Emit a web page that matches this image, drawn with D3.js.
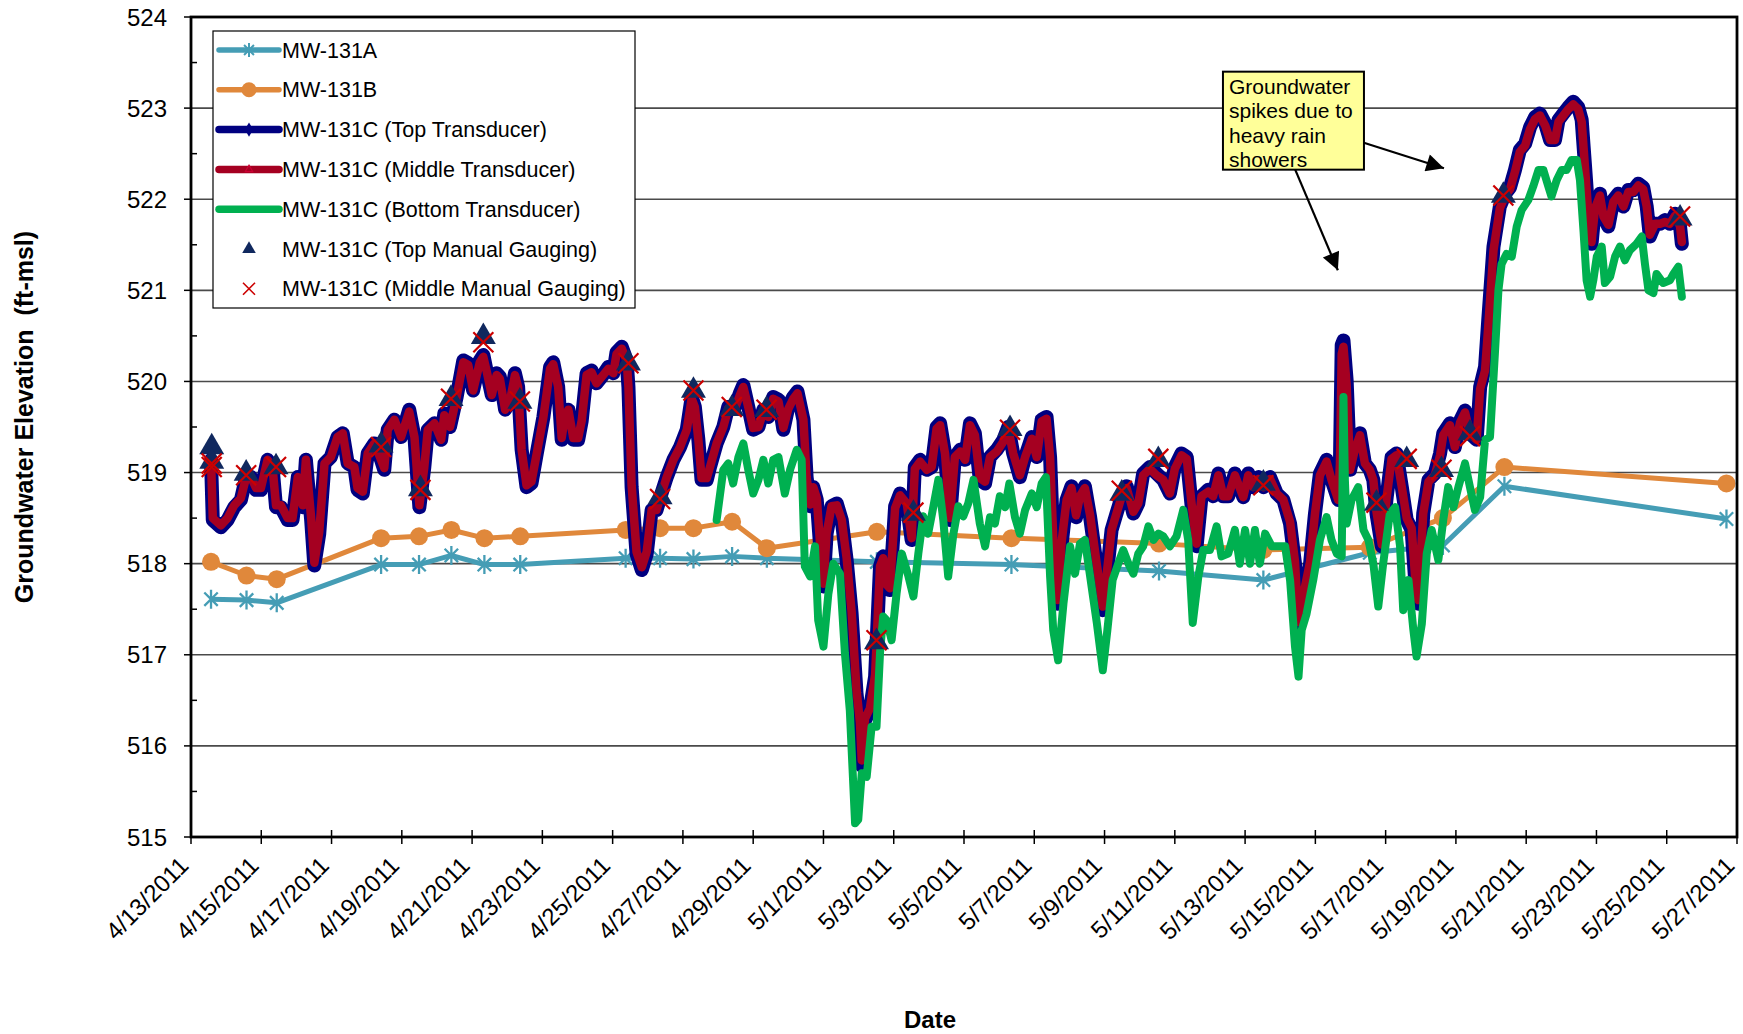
<!DOCTYPE html>
<html>
<head>
<meta charset="utf-8">
<script src="https://cdn.jsdelivr.net/npm/d3@7"></script>
<style>
  body { margin: 0; background: #fff; }
  text { font-family: Arial, "Liberation Sans", sans-serif; }
</style>
</head>
<body>
<div id="chart"></div>
<script>
// days are counted from 4/13/2011 00:00
const startDate = Date.UTC(2011, 3, 13);
const endDate = Date.UTC(2011, 4, 27);

const yTicks = [515, 516, 517, 518, 519, 520, 521, 522, 523, 524];

const seriesNames = [
    "MW-131A",
    "MW-131B",
    "MW-131C (Top Transducer)",
    "MW-131C (Middle Transducer)",
    "MW-131C (Bottom Transducer)",
    "MW-131C (Top Manual Gauging)",
    "MW-131C (Middle Manual Gauging)"
];

// manual measurements MW-131A / MW-131B
const wellDays = [0.57, 1.58, 2.44, 5.41, 6.49, 7.41, 8.35, 9.37, 12.37, 13.35, 14.30, 15.40, 16.39, 19.52, 23.35, 27.55, 30.52, 33.55, 35.63, 37.38, 43.70];
const mw131A = [517.61, 517.60, 517.57, 517.99, 517.99, 518.09, 517.99, 517.99, 518.06, 518.06, 518.05, 518.08, 518.06, 518.02, 517.99, 517.92, 517.82, 518.12, 518.20, 518.85, 518.49];
const mw131B = [518.02, 517.87, 517.83, 518.28, 518.30, 518.37, 518.28, 518.30, 518.37, 518.39, 518.39, 518.46, 518.17, 518.35, 518.28, 518.22, 518.15, 518.18, 518.50, 519.06, 518.88];

// manual gauging of MW-131C
const gaugeDays = [0.59, 0.59, 1.57, 2.42, 5.41, 6.53, 7.40, 8.32, 9.36, 12.45, 13.35, 14.30, 15.39, 16.38, 19.51, 20.56, 23.31, 26.49, 27.53, 30.52, 33.74, 34.60, 35.59, 36.40, 37.35, 42.38];
const topGauge = [519.28, 519.12, 518.99, 519.06, 519.30, 518.82, 519.81, 520.49, 519.78, 520.20, 518.73, 519.90, 519.70, 519.69, 517.14, 518.55, 519.48, 518.77, 519.14, 518.88, 518.66, 519.14, 519.03, 519.43, 522.04, 521.79];
const midGauge = [519.10, 519.06, 518.97, 519.06, 519.28, 518.81, 519.81, 520.43, 519.78, 520.20, 518.71, 519.90, 519.72, 519.69, 517.16, 518.56, 519.47, 518.80, 519.15, 518.86, 518.67, 519.15, 519.03, 519.40, 522.04, 521.81];

// transducer records [day, elevation]
const cTop = [
    [0.57, 519.14], [0.62, 518.48], [0.85, 518.40], [1.04, 518.48], [1.23, 518.62], [1.42, 518.70], [1.57, 518.95], [1.71, 518.95], [1.85, 518.81], [1.99, 518.81],
    [2.18, 519.14], [2.32, 519.06], [2.42, 518.62], [2.56, 518.62], [2.75, 518.48], [2.89, 518.48], [3.04, 518.95], [3.18, 518.62], [3.27, 519.14], [3.42, 518.48],
    [3.51, 517.98], [3.65, 518.33], [3.80, 519.10], [3.98, 519.17], [4.17, 519.39], [4.32, 519.43], [4.46, 519.10], [4.65, 519.06], [4.74, 518.81], [4.89, 518.77],
    [5.03, 519.21], [5.22, 519.32], [5.41, 519.14], [5.50, 519.03], [5.60, 519.47], [5.79, 519.58], [5.98, 519.39], [6.21, 519.69], [6.36, 519.39], [6.50, 518.62],
    [6.64, 519.06], [6.74, 519.47], [6.93, 519.54], [7.12, 519.36], [7.21, 519.65], [7.37, 519.50], [7.56, 519.83], [7.75, 520.23], [7.89, 520.20], [8.03, 519.90],
    [8.22, 520.23], [8.32, 520.29], [8.41, 520.12], [8.56, 519.85], [8.70, 520.09], [8.79, 520.05], [8.94, 519.69], [9.08, 519.79], [9.22, 520.09], [9.31, 519.94],
    [9.41, 519.25], [9.55, 518.84], [9.69, 518.88], [9.84, 519.21], [10.03, 519.61], [10.22, 520.16], [10.31, 520.21], [10.45, 519.94], [10.55, 519.36], [10.64, 519.61],
    [10.74, 519.69], [10.88, 519.36], [11.02, 519.36], [11.12, 519.57], [11.26, 520.09], [11.40, 520.12], [11.54, 519.98], [11.69, 520.05], [11.88, 520.16], [12.02, 520.09],
    [12.11, 520.32], [12.26, 520.38], [12.40, 520.23], [12.45, 519.94], [12.54, 518.84], [12.68, 518.11], [12.83, 517.93], [12.97, 518.11], [13.11, 518.59], [13.25, 518.59],
    [13.39, 518.77], [13.54, 518.95], [13.73, 519.14], [13.92, 519.28], [14.11, 519.47], [14.25, 519.83], [14.34, 519.72], [14.44, 519.36], [14.53, 518.92], [14.68, 518.92],
    [14.77, 519.06], [14.96, 519.32], [15.15, 519.50], [15.29, 519.72], [15.48, 519.72], [15.62, 519.87], [15.72, 519.96], [15.86, 519.72], [16.00, 519.47], [16.15, 519.50],
    [16.29, 519.69], [16.43, 519.61], [16.57, 519.83], [16.72, 519.80], [16.86, 519.47], [17.00, 519.72], [17.14, 519.83], [17.26, 519.89], [17.43, 519.58], [17.52, 518.95],
    [17.62, 518.63], [17.71, 518.84], [17.81, 518.70], [17.90, 518.22], [18.00, 517.75], [18.09, 518.33], [18.23, 518.63], [18.38, 518.66], [18.52, 518.48], [18.66, 518.04],
    [18.80, 517.46], [18.94, 516.58], [19.04, 516.21], [19.09, 515.78], [19.18, 516.28], [19.32, 516.39], [19.47, 516.76], [19.61, 517.97], [19.70, 518.08], [19.80, 517.75],
    [19.89, 517.71], [20.04, 518.63], [20.18, 518.77], [20.37, 518.66], [20.51, 518.26], [20.60, 519.06], [20.75, 519.14], [20.94, 519.03], [21.08, 519.06], [21.22, 519.50],
    [21.32, 519.54], [21.46, 519.21], [21.60, 518.48], [21.74, 519.17], [21.89, 519.25], [22.03, 519.14], [22.17, 519.54], [22.31, 519.43], [22.45, 518.92], [22.60, 518.88],
    [22.74, 519.17], [22.93, 519.25], [23.12, 519.36], [23.26, 519.50], [23.40, 519.21], [23.59, 518.95], [23.74, 519.17], [23.93, 519.39], [24.07, 519.17], [24.21, 519.58],
    [24.35, 519.61], [24.45, 519.17], [24.54, 518.26], [24.66, 517.56], [24.78, 518.22], [24.92, 518.70], [25.06, 518.85], [25.19, 518.51], [25.30, 518.74], [25.44, 518.85],
    [25.59, 518.51], [25.78, 517.97], [25.95, 517.49], [26.06, 517.86], [26.20, 518.37], [26.34, 518.55], [26.49, 518.74], [26.63, 518.85], [26.82, 518.55], [26.96, 518.66],
    [27.10, 518.99], [27.29, 519.06], [27.48, 518.99], [27.67, 518.92], [27.86, 518.77], [28.00, 519.06], [28.19, 519.21], [28.34, 519.17], [28.48, 518.63], [28.62, 518.19],
    [28.76, 518.74], [28.95, 518.81], [29.09, 518.74], [29.24, 518.99], [29.38, 518.74], [29.52, 518.74], [29.71, 518.99], [29.95, 518.73], [30.09, 518.99], [30.23, 518.84],
    [30.38, 518.95], [30.52, 518.84], [30.71, 518.95], [30.90, 518.77], [31.09, 518.70], [31.28, 518.44], [31.42, 518.00], [31.52, 517.31], [31.66, 517.64], [31.85, 518.00],
    [31.99, 518.55], [32.13, 518.99], [32.32, 519.14], [32.46, 518.92], [32.65, 518.70], [32.70, 519.10], [32.75, 520.40], [32.80, 520.45], [32.89, 520.01], [32.99, 519.03],
    [33.13, 519.28], [33.27, 519.43], [33.41, 519.10], [33.55, 519.03], [33.65, 518.92], [33.74, 518.55], [33.89, 518.19], [34.03, 518.73], [34.17, 519.17], [34.31, 519.21],
    [34.46, 518.84], [34.60, 518.48], [34.74, 518.37], [34.84, 517.82], [34.93, 517.56], [35.07, 518.55], [35.22, 518.92], [35.40, 518.99], [35.55, 519.21], [35.64, 519.43],
    [35.83, 519.54], [35.97, 519.28], [36.12, 519.57], [36.26, 519.68], [36.40, 519.43], [36.59, 519.36], [36.69, 519.94], [36.83, 520.16], [36.92, 520.67], [37.07, 521.48],
    [37.25, 521.92], [37.40, 522.06], [37.54, 522.13], [37.68, 522.32], [37.82, 522.54], [37.97, 522.61], [38.11, 522.79], [38.25, 522.90], [38.39, 522.94], [38.54, 522.83],
    [38.68, 522.65], [38.82, 522.65], [38.92, 522.87], [39.06, 522.94], [39.20, 523.01], [39.34, 523.07], [39.48, 523.01], [39.58, 522.87], [39.67, 522.39], [39.77, 521.84],
    [39.86, 521.51], [39.96, 521.92], [40.10, 522.06], [40.20, 521.81], [40.34, 521.70], [40.48, 521.99], [40.62, 522.06], [40.77, 521.92], [40.91, 522.10], [41.05, 522.10],
    [41.19, 522.17], [41.33, 522.13], [41.43, 521.92], [41.52, 521.59], [41.67, 521.73], [41.81, 521.73], [41.95, 521.77], [42.09, 521.73], [42.24, 521.84], [42.38, 521.70],
    [42.43, 521.51]
];

const cMiddle = [
    [0.57, 519.14], [0.62, 518.50], [0.85, 518.42], [1.04, 518.50], [1.23, 518.64], [1.42, 518.72], [1.57, 518.95], [1.71, 518.95], [1.85, 518.83], [1.99, 518.83],
    [2.18, 519.14], [2.32, 519.06], [2.42, 518.64], [2.56, 518.64], [2.75, 518.50], [2.89, 518.50], [3.04, 518.95], [3.18, 518.64], [3.27, 519.14], [3.42, 518.50],
    [3.51, 518.01], [3.65, 518.35], [3.80, 519.10], [3.98, 519.17], [4.17, 519.39], [4.32, 519.43], [4.46, 519.10], [4.65, 519.06], [4.74, 518.83], [4.89, 518.79],
    [5.03, 519.21], [5.22, 519.32], [5.41, 519.14], [5.50, 519.05], [5.60, 519.47], [5.79, 519.58], [5.98, 519.39], [6.21, 519.67], [6.36, 519.39], [6.50, 518.64],
    [6.64, 519.06], [6.74, 519.47], [6.93, 519.54], [7.12, 519.36], [7.21, 519.63], [7.37, 519.50], [7.56, 519.83], [7.75, 520.21], [7.89, 520.18], [8.03, 519.90],
    [8.22, 520.21], [8.32, 520.27], [8.41, 520.12], [8.56, 519.85], [8.70, 520.07], [8.79, 520.03], [8.94, 519.69], [9.08, 519.79], [9.22, 520.07], [9.31, 519.94],
    [9.41, 519.25], [9.55, 518.86], [9.69, 518.90], [9.84, 519.21], [10.03, 519.61], [10.22, 520.14], [10.31, 520.19], [10.45, 519.94], [10.55, 519.38], [10.64, 519.61],
    [10.74, 519.69], [10.88, 519.38], [11.02, 519.38], [11.12, 519.57], [11.26, 520.07], [11.40, 520.10], [11.54, 519.98], [11.69, 520.05], [11.88, 520.14], [12.02, 520.09],
    [12.11, 520.30], [12.26, 520.36], [12.40, 520.23], [12.45, 519.94], [12.54, 518.86], [12.68, 518.13], [12.83, 517.96], [12.97, 518.13], [13.11, 518.59], [13.25, 518.59],
    [13.39, 518.77], [13.54, 518.95], [13.73, 519.14], [13.92, 519.28], [14.11, 519.47], [14.25, 519.81], [14.34, 519.72], [14.44, 519.36], [14.53, 518.94], [14.68, 518.94],
    [14.77, 519.06], [14.96, 519.32], [15.15, 519.50], [15.29, 519.70], [15.48, 519.70], [15.62, 519.85], [15.72, 519.94], [15.86, 519.72], [16.00, 519.49], [16.15, 519.50],
    [16.29, 519.67], [16.43, 519.61], [16.57, 519.81], [16.72, 519.78], [16.86, 519.49], [17.00, 519.70], [17.14, 519.81], [17.26, 519.87], [17.43, 519.58], [17.52, 518.95],
    [17.62, 518.65], [17.71, 518.84], [17.81, 518.72], [17.90, 518.24], [18.00, 517.78], [18.09, 518.33], [18.23, 518.63], [18.38, 518.64], [18.52, 518.48], [18.66, 518.06],
    [18.80, 517.48], [18.94, 516.62], [19.04, 516.25], [19.09, 515.84], [19.18, 516.30], [19.32, 516.41], [19.47, 516.78], [19.61, 517.97], [19.70, 518.06], [19.80, 517.77],
    [19.89, 517.73], [20.04, 518.61], [20.18, 518.75], [20.37, 518.66], [20.51, 518.28], [20.60, 519.04], [20.75, 519.12], [20.94, 519.03], [21.08, 519.06], [21.22, 519.48],
    [21.32, 519.52], [21.46, 519.21], [21.60, 518.50], [21.74, 519.17], [21.89, 519.23], [22.03, 519.14], [22.17, 519.52], [22.31, 519.41], [22.45, 518.94], [22.60, 518.90],
    [22.74, 519.17], [22.93, 519.23], [23.12, 519.34], [23.26, 519.48], [23.40, 519.21], [23.59, 518.97], [23.74, 519.17], [23.93, 519.37], [24.07, 519.17], [24.21, 519.56],
    [24.35, 519.59], [24.45, 519.17], [24.54, 518.28], [24.66, 517.60], [24.78, 518.24], [24.92, 518.70], [25.06, 518.83], [25.19, 518.53], [25.30, 518.74], [25.44, 518.83],
    [25.59, 518.53], [25.78, 517.99], [25.95, 517.53], [26.06, 517.88], [26.20, 518.37], [26.34, 518.55], [26.49, 518.74], [26.63, 518.83], [26.82, 518.57], [26.96, 518.66],
    [27.10, 518.97], [27.29, 519.04], [27.48, 518.97], [27.67, 518.92], [27.86, 518.77], [28.00, 519.04], [28.19, 519.19], [28.34, 519.15], [28.48, 518.65], [28.62, 518.22],
    [28.76, 518.74], [28.95, 518.79], [29.09, 518.74], [29.24, 518.97], [29.38, 518.74], [29.52, 518.74], [29.71, 518.97], [29.95, 518.73], [30.09, 518.97], [30.23, 518.84],
    [30.38, 518.93], [30.52, 518.84], [30.71, 518.93], [30.90, 518.77], [31.09, 518.70], [31.28, 518.46], [31.42, 518.02], [31.52, 517.36], [31.66, 517.66], [31.85, 518.02],
    [31.99, 518.55], [32.13, 518.97], [32.32, 519.12], [32.46, 518.92], [32.65, 518.70], [32.70, 519.10], [32.75, 520.30], [32.80, 520.38], [32.89, 519.96], [32.99, 519.03],
    [33.13, 519.26], [33.27, 519.41], [33.41, 519.10], [33.55, 519.03], [33.65, 518.92], [33.74, 518.57], [33.89, 518.21], [34.03, 518.73], [34.17, 519.15], [34.31, 519.19],
    [34.46, 518.84], [34.60, 518.50], [34.74, 518.39], [34.84, 517.85], [34.93, 517.60], [35.07, 518.55], [35.22, 518.90], [35.40, 518.97], [35.55, 519.19], [35.64, 519.41],
    [35.83, 519.52], [35.97, 519.28], [36.12, 519.55], [36.26, 519.66], [36.40, 519.43], [36.59, 519.36], [36.69, 519.92], [36.83, 520.12], [36.92, 520.60], [37.07, 521.44],
    [37.25, 521.90], [37.40, 522.04], [37.54, 522.11], [37.68, 522.30], [37.82, 522.52], [37.97, 522.59], [38.11, 522.77], [38.25, 522.88], [38.39, 522.92], [38.54, 522.81],
    [38.68, 522.65], [38.82, 522.65], [38.92, 522.85], [39.06, 522.92], [39.20, 522.99], [39.34, 523.04], [39.48, 522.99], [39.58, 522.85], [39.67, 522.37], [39.77, 521.84],
    [39.86, 521.53], [39.96, 521.90], [40.10, 522.04], [40.20, 521.81], [40.34, 521.72], [40.48, 521.97], [40.62, 522.04], [40.77, 521.92], [40.91, 522.08], [41.05, 522.08],
    [41.19, 522.15], [41.33, 522.11], [41.43, 521.92], [41.52, 521.61], [41.67, 521.73], [41.81, 521.73], [41.95, 521.75], [42.09, 521.73], [42.24, 521.82], [42.38, 521.70],
    [42.43, 521.53]
];

const cBottom = [
    [14.96, 518.48], [15.15, 519.03], [15.29, 519.10], [15.43, 518.88], [15.58, 519.17], [15.72, 519.32], [15.86, 519.03], [16.00, 518.77], [16.15, 518.92], [16.29, 519.14],
    [16.43, 518.88], [16.57, 519.14], [16.72, 519.17], [16.90, 518.77], [17.05, 519.03], [17.24, 519.25], [17.38, 519.14], [17.47, 517.97], [17.62, 517.86], [17.76, 518.19],
    [17.85, 517.38], [18.00, 517.09], [18.14, 517.67], [18.28, 518.00], [18.47, 517.89], [18.61, 517.02], [18.75, 516.39], [18.90, 515.15], [18.99, 515.19], [19.09, 515.70],
    [19.23, 515.66], [19.37, 516.21], [19.51, 516.21], [19.61, 517.02], [19.70, 517.42], [19.80, 517.38], [19.94, 517.16], [20.08, 517.67], [20.23, 518.11], [20.42, 517.86],
    [20.56, 517.64], [20.70, 518.11], [20.84, 518.52], [20.98, 518.33], [21.13, 518.63], [21.27, 518.92], [21.41, 518.48], [21.55, 517.86], [21.70, 518.33], [21.84, 518.63],
    [21.98, 518.52], [22.12, 518.66], [22.27, 518.92], [22.45, 518.44], [22.60, 518.19], [22.74, 518.51], [22.88, 518.44], [23.02, 518.74], [23.17, 518.62], [23.29, 518.88],
    [23.45, 518.51], [23.59, 518.33], [23.74, 518.59], [23.93, 518.77], [24.07, 518.62], [24.21, 518.88], [24.33, 518.95], [24.45, 517.86], [24.54, 517.27], [24.68, 516.94],
    [24.83, 517.56], [25.02, 518.19], [25.16, 517.89], [25.30, 518.22], [25.44, 518.26], [25.59, 517.86], [25.78, 517.35], [25.95, 516.83], [26.08, 517.27], [26.23, 517.82],
    [26.39, 518.00], [26.53, 518.15], [26.68, 518.00], [26.82, 517.89], [26.96, 518.11], [27.10, 518.19], [27.25, 518.41], [27.39, 518.26], [27.53, 518.33], [27.67, 518.30],
    [27.86, 518.19], [28.05, 518.30], [28.24, 518.59], [28.38, 518.26], [28.51, 517.35], [28.67, 517.86], [28.81, 518.15], [29.00, 518.15], [29.19, 518.41], [29.33, 518.08],
    [29.52, 518.11], [29.71, 518.37], [29.85, 518.00], [30.00, 518.37], [30.14, 518.00], [30.28, 518.37], [30.42, 518.00], [30.57, 518.33], [30.76, 518.19], [30.95, 518.19],
    [31.14, 518.19], [31.28, 517.82], [31.42, 517.09], [31.52, 516.76], [31.61, 517.27], [31.75, 517.45], [31.94, 517.82], [32.13, 518.26], [32.32, 518.51], [32.46, 518.26],
    [32.61, 518.11], [32.75, 518.08], [32.80, 519.83], [32.84, 518.92], [32.89, 518.44], [33.03, 518.70], [33.22, 518.84], [33.37, 518.37], [33.51, 518.26], [33.65, 518.00],
    [33.79, 517.53], [33.93, 518.00], [34.12, 518.55], [34.27, 518.62], [34.41, 518.19], [34.50, 517.49], [34.65, 517.82], [34.79, 517.27], [34.88, 516.98], [35.03, 517.34],
    [35.17, 518.11], [35.31, 518.37], [35.50, 518.04], [35.64, 518.48], [35.78, 518.84], [35.93, 518.62], [36.07, 518.84], [36.26, 519.10], [36.40, 518.84], [36.54, 518.59],
    [36.69, 518.73], [36.83, 519.36], [36.97, 519.39], [37.11, 520.31], [37.21, 521.00], [37.30, 521.29], [37.44, 521.40], [37.59, 521.37], [37.73, 521.70], [37.87, 521.88],
    [38.06, 521.99], [38.20, 522.14], [38.35, 522.32], [38.49, 522.32], [38.63, 522.14], [38.72, 522.03], [38.87, 522.21], [39.01, 522.32], [39.15, 522.32], [39.29, 522.43],
    [39.44, 522.43], [39.53, 522.21], [39.63, 521.66], [39.72, 521.11], [39.82, 520.93], [39.91, 521.11], [40.01, 521.37], [40.15, 521.48], [40.24, 521.08], [40.39, 521.15],
    [40.53, 521.37], [40.67, 521.48], [40.81, 521.33], [40.95, 521.44], [41.14, 521.51], [41.29, 521.59], [41.38, 521.29], [41.48, 521.00], [41.62, 520.97], [41.71, 521.18],
    [41.90, 521.08], [42.09, 521.11], [42.19, 521.18], [42.33, 521.26], [42.43, 520.93]
];

// callout text and where it sits (day, elevation)
const noteLines = ["Groundwater", "spikes due to", "heavy rain", "showers"];
const noteBox = { day: 29.37, elev: 523.40 };
const noteArrows = [
    { from: [33.38, 522.62], to: [35.66, 522.34] },
    { from: [31.42, 522.33], to: [32.64, 521.22] }
];

const colors = {
    a: "#459db5", b: "#e0883b", top: "#000080", mid: "#a50021", bot: "#00b050",
    tri: "#10285e", x: "#cc0000"
};

const width = 1743;
const height = 1034;
const margin = { top: 17, right: 6, bottom: 197, left: 191 };

const dayToDate = d => new Date(startDate + d * 864e5);

const x = d3.scaleUtc()
    .domain([new Date(startDate), new Date(endDate)])
    .range([margin.left, width - margin.right]);
const y = d3.scaleLinear()
    .domain([515, 524])
    .range([height - margin.bottom, margin.top]);

const svg = d3.select("#chart").append("svg")
    .attr("width", width)
    .attr("height", height)
    .style("background", "#fff");

// gridlines
svg.append("g")
    .selectAll("line")
    .data(yTicks.slice(1, -1))
    .join("line")
    .attr("x1", x.range()[0]).attr("x2", x.range()[1])
    .attr("y1", d => y(d)).attr("y2", d => y(d))
    .attr("stroke", "#4a4a4a")
    .attr("stroke-width", 1.6);

const line = d3.line()
    .x(d => x(dayToDate(d[0])))
    .y(d => y(d[1]));

function asterisk(size) {
    const s = size / 2, t = s * 0.7071;
    return `M0,${-s}L0,${s}M${-t},${-t}L${t},${t}M${-t},${t}L${t},${-t}`;
}

// MW-131A
const aData = wellDays.map((d, i) => [d, mw131A[i]]);
svg.append("path")
    .datum(aData)
    .attr("fill", "none")
    .attr("stroke", colors.a)
    .attr("stroke-width", 5)
    .attr("stroke-linejoin", "round")
    .attr("d", line);
svg.append("g")
    .selectAll("path")
    .data(aData)
    .join("path")
    .attr("transform", d => `translate(${x(dayToDate(d[0]))},${y(d[1])})`)
    .attr("d", asterisk(19))
    .attr("stroke", colors.a)
    .attr("stroke-width", 2.3);

// MW-131B
const bData = wellDays.map((d, i) => [d, mw131B[i]]);
svg.append("path")
    .datum(bData)
    .attr("fill", "none")
    .attr("stroke", colors.b)
    .attr("stroke-width", 5)
    .attr("stroke-linejoin", "round")
    .attr("d", line);
svg.append("g")
    .selectAll("circle")
    .data(bData)
    .join("circle")
    .attr("cx", d => x(dayToDate(d[0])))
    .attr("cy", d => y(d[1]))
    .attr("r", 9)
    .attr("fill", colors.b);

// transducers
[[cTop, colors.top, 14], [cMiddle, colors.mid, 8.5], [cBottom, colors.bot, 8]].forEach(([data, c, w]) => {
    svg.append("path")
        .datum(data)
        .attr("fill", "none")
        .attr("stroke", c)
        .attr("stroke-width", w)
        .attr("stroke-linejoin", "round")
        .attr("stroke-linecap", "round")
        .attr("d", line);
});

// manual gauging
const triangle = d3.symbol().type(d3.symbolTriangle).size(270);
svg.append("g")
    .selectAll("path")
    .data(gaugeDays.map((d, i) => [d, topGauge[i]]))
    .join("path")
    .attr("transform", d => `translate(${x(dayToDate(d[0]))},${y(d[1])})`)
    .attr("d", triangle)
    .attr("fill", colors.tri);

const cross = s => `M${-s},${-s}L${s},${s}M${-s},${s}L${s},${-s}`;
svg.append("g")
    .selectAll("path")
    .data(gaugeDays.map((d, i) => [d, midGauge[i]]))
    .join("path")
    .attr("transform", d => `translate(${x(dayToDate(d[0]))},${y(d[1])})`)
    .attr("d", cross(10))
    .attr("stroke", colors.x)
    .attr("stroke-width", 2.2);

// plot frame
svg.append("rect")
    .attr("x", x.range()[0])
    .attr("y", y.range()[1])
    .attr("width", x.range()[1] - x.range()[0])
    .attr("height", y.range()[0] - y.range()[1])
    .attr("fill", "none")
    .attr("stroke", "#000")
    .attr("stroke-width", 2.8);

// y axis
const yAxis = svg.append("g");
yAxis.selectAll("line.major")
    .data(yTicks)
    .join("line")
    .attr("class", "major")
    .attr("x1", x.range()[0] - 7).attr("x2", x.range()[0])
    .attr("y1", d => y(d)).attr("y2", d => y(d))
    .attr("stroke", "#000").attr("stroke-width", 1.5);
yAxis.selectAll("line.minor")
    .data(yTicks.slice(0, -1).map(d => d + 0.5))
    .join("line")
    .attr("class", "minor")
    .attr("x1", x.range()[0]).attr("x2", x.range()[0] + 6)
    .attr("y1", d => y(d)).attr("y2", d => y(d))
    .attr("stroke", "#000").attr("stroke-width", 1.5);
yAxis.selectAll("text")
    .data(yTicks)
    .join("text")
    .attr("x", x.range()[0] - 24)
    .attr("y", d => y(d) + 8.5)
    .attr("text-anchor", "end")
    .style("font-size", "24px")
    .text(d => d);

// x axis
const xTicks = x.ticks(d3.utcDay.every(2));
const fmt = d3.utcFormat("%-m/%-d/%Y");
const xAxis = svg.append("g");
xAxis.selectAll("line")
    .data(xTicks)
    .join("line")
    .attr("x1", d => x(d)).attr("x2", d => x(d))
    .attr("y1", y.range()[0] - 7).attr("y2", y.range()[0] + 7)
    .attr("stroke", "#000").attr("stroke-width", 1.5);
xAxis.selectAll("text")
    .data(xTicks)
    .join("text")
    .attr("transform", d => `translate(${x(d) - 1},${y.range()[0] + 30}) rotate(-45)`)
    .attr("text-anchor", "end")
    .style("font-size", "24px")
    .text(d => fmt(d));

// axis titles
svg.append("text")
    .attr("transform", `translate(33,${(y.range()[0] + y.range()[1]) / 2 - 10}) rotate(-90)`)
    .attr("text-anchor", "middle")
    .style("font-size", "25px")
    .style("font-weight", "bold")
    .style("white-space", "pre")
    .text("Groundwater Elevation  (ft-msl)");
svg.append("text")
    .attr("x", 930)
    .attr("y", 1028)
    .attr("text-anchor", "middle")
    .style("font-size", "24px")
    .style("font-weight", "bold")
    .text("Date");

// legend
const legend = svg.append("g").attr("transform", "translate(213,31)");
legend.append("rect")
    .attr("width", 422).attr("height", 277)
    .attr("fill", "#fff")
    .attr("stroke", "#000")
    .attr("stroke-width", 1.2);
const legendItems = seriesNames.map((name, i) => ({ name, i }));
const rows = legend.selectAll("g")
    .data(legendItems)
    .join("g")
    .attr("transform", d => `translate(0,${19 + d.i * 39.8})`);
rows.append("text")
    .attr("x", 69)
    .attr("y", 7.5)
    .style("font-size", "21.5px")
    .text(d => d.name);
rows.each(function (d) {
    const g = d3.select(this);
    const lc = [colors.a, colors.b, colors.top, colors.mid, colors.bot][d.i];
    if (lc) {
        g.append("line")
            .attr("x1", 6).attr("x2", 66)
            .attr("stroke", lc)
            .attr("stroke-width", d.i < 2 ? 5.5 : 7.5)
            .attr("stroke-linecap", "round");
    }
    if (d.i === 0) g.append("path").attr("transform", "translate(36,0)").attr("d", asterisk(14)).attr("stroke", colors.a).attr("stroke-width", 2);
    if (d.i === 1) g.append("circle").attr("cx", 36).attr("r", 7.5).attr("fill", colors.b);
    if (d.i === 2) g.append("path").attr("transform", "translate(36,0)").attr("d", d3.symbol().type(d3.symbolDiamond).size(60)).attr("fill", colors.top);
    if (d.i === 3) g.append("path").attr("transform", "translate(36,0)").attr("d", d3.symbol().type(d3.symbolTriangle).size(24)).attr("fill", "none").attr("stroke", "#cc0033").attr("stroke-width", 1.2);
    if (d.i === 5) g.append("path").attr("transform", "translate(36,0)").attr("d", d3.symbol().type(d3.symbolTriangle).size(80)).attr("fill", colors.tri);
    if (d.i === 6) g.append("path").attr("transform", "translate(36,0)").attr("d", cross(6)).attr("stroke", colors.x).attr("stroke-width", 1.6);
});

// callout
svg.append("defs").append("marker")
    .attr("id", "arrowhead")
    .attr("viewBox", "0 0 10 10")
    .attr("refX", 10).attr("refY", 5)
    .attr("markerWidth", 9).attr("markerHeight", 8)
    .attr("markerUnits", "strokeWidth")
    .attr("orient", "auto")
    .append("path")
    .attr("d", "M0,0L10,5L0,10z")
    .attr("fill", "#000");

svg.append("g")
    .selectAll("line")
    .data(noteArrows)
    .join("line")
    .attr("x1", d => x(dayToDate(d.from[0]))).attr("y1", d => y(d.from[1]))
    .attr("x2", d => x(dayToDate(d.to[0]))).attr("y2", d => y(d.to[1]))
    .attr("stroke", "#000")
    .attr("stroke-width", 2.2)
    .attr("marker-end", "url(#arrowhead)");

const note = svg.append("g")
    .attr("transform", `translate(${x(dayToDate(noteBox.day))},${y(noteBox.elev)})`);
note.append("rect")
    .attr("width", 141).attr("height", 98)
    .attr("fill", "#ffff99")
    .attr("stroke", "#000")
    .attr("stroke-width", 2);
note.append("text")
    .style("font-size", "21px")
    .selectAll("tspan")
    .data(noteLines)
    .join("tspan")
    .attr("x", 6)
    .attr("y", (d, i) => 22 + i * 24.5)
    .text(d => d);
</script>
</body>
</html>
